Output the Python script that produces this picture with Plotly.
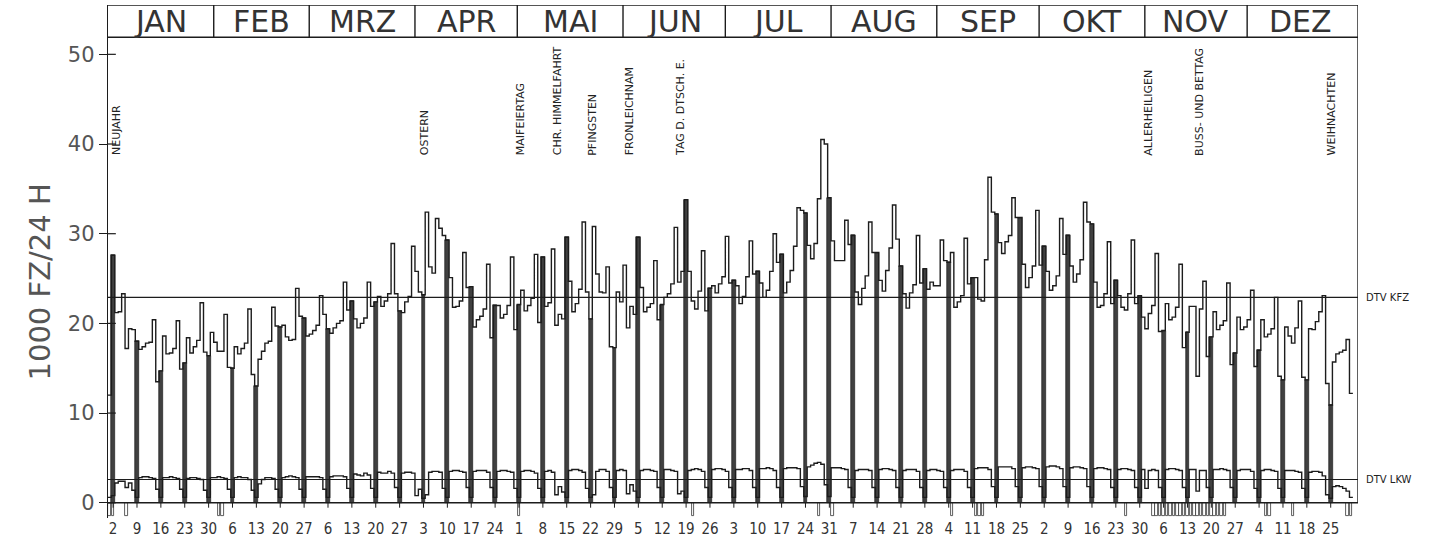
import plotly.graph_objects as go

# ---------------- data (1983, daily values, 1000 vehicles / 24 h) ----------------
# KFZ: all motor vehicles, Jan 1 (Sat) ... Dec 31 (Sat); rows = weeks Mon..Sun
kfz = [
    12.0, 27.6,
    21.2, 21.3, 23.3, 17.2, 19.4, 19.3, 18.0,
    17.1, 17.4, 17.8, 17.9, 20.4, 13.5, 14.7,
    18.6, 16.6, 16.7, 17.2, 20.3, 14.9, 15.6,
    18.4, 16.7, 17.4, 18.1, 22.3, 16.8, 16.4,
    19.0, 17.9, 16.9, 16.9, 21.0, 15.1, 15.0,
    17.4, 16.6, 17.2, 17.8, 21.6, 14.3, 13.0,
    16.0, 16.9, 17.8, 18.0, 21.8, 19.7, 19.6,
    19.8, 18.5, 18.1, 18.2, 23.9, 20.8, 20.6,
    18.6, 18.8, 19.2, 19.8, 23.1, 21.0, 19.4,
    18.9, 19.5, 20.0, 20.3, 24.6, 21.5, 22.5,
    20.5, 19.5, 20.0, 20.6, 24.6, 21.9, 22.4,
    23.0, 21.9, 22.5, 23.3, 28.9, 23.3, 21.4,
    21.2, 22.4, 23.0, 28.6, 25.8, 23.5, 23.2,
    32.4, 26.3, 25.6, 31.7, 30.6, 29.8, 29.3,
    25.1, 21.8, 21.9, 22.5, 27.9, 24.0, 24.1,
    19.6, 20.4, 20.8, 21.6, 26.6, 18.4, 22.0,
    22.0, 20.6, 21.0, 22.0, 27.4, 19.3, 22.1,
    23.7, 21.4, 22.0, 22.8, 27.7, 20.1, 27.4,
    21.9, 22.3, 28.3, 19.8, 21.0, 20.5, 29.6,
    24.7, 21.3, 22.2, 23.8, 31.3, 23.5, 20.5,
    30.8, 25.5, 23.5, 23.4, 26.3, 17.4, 17.3,
    23.5, 22.4, 26.5, 19.5, 21.9, 21.0, 29.6,
    24.0, 21.3, 21.8, 22.2, 27.0, 20.4, 22.1,
    22.9, 23.3, 24.4, 30.7, 24.6, 25.8, 33.8,
    25.8, 22.5, 21.6, 23.6, 28.1, 21.4, 23.9,
    24.2, 23.4, 24.4, 25.2, 29.7, 24.5, 24.8,
    24.2, 22.2, 23.0, 25.2, 29.2, 25.5, 25.8,
    24.5, 22.9, 23.7, 25.8, 30.0, 26.8, 27.7,
    23.4, 24.6, 25.9, 28.6, 32.9, 32.6, 32.3,
    28.7, 27.2, 28.9, 33.9, 40.5, 40.0, 34.0,
    29.2, 27.0, 27.0, 27.0, 31.5, 28.8, 29.8,
    23.5, 22.1, 23.9, 25.3, 31.3, 27.9, 27.9,
    24.8, 23.6, 25.9, 28.4, 33.2, 29.4, 26.4,
    23.3, 21.7, 23.4, 24.3, 29.8, 24.5, 26.1,
    23.8, 24.6, 24.2, 24.2, 29.3, 27.0, 26.8,
    27.9, 21.8, 22.4, 23.1, 29.5, 24.4, 25.1,
    25.1, 22.7, 22.5, 27.1, 36.3, 32.4, 32.2,
    29.0, 27.8, 29.1, 29.8, 34.0, 31.8, 31.8,
    26.6, 24.0, 25.1, 26.4, 32.6, 26.5, 28.6,
    25.8, 23.7, 24.2, 25.3, 31.7, 27.7, 29.8,
    26.4, 24.6, 25.5, 27.1, 33.5, 31.3, 31.1,
    24.6, 21.8, 22.0, 23.3, 29.1, 22.2, 24.8,
    23.1, 21.8, 21.5, 23.3, 29.3, 22.2, 23.1,
    20.7, 19.4, 21.1, 22.0, 27.8, 19.1, 19.2,
    22.2, 20.4, 20.7, 21.8, 26.6, 17.3, 19.0,
    21.9, 21.9, 14.1, 21.6, 24.7, 16.3, 18.5,
    21.3, 19.3, 19.8, 20.3, 24.5, 15.4, 16.7,
    20.7, 19.3, 19.6, 20.4, 23.7, 15.2, 17.0,
    20.4, 18.5, 18.8, 19.4, 22.9, 14.1, 13.7,
    19.6, 18.6, 17.8, 19.5, 22.5, 14.0, 13.7,
    19.4, 19.3, 20.2, 21.3, 23.1, 13.3, 10.9,
    15.7, 16.6, 16.8, 17.0, 18.2, 12.2,
]

# LKW: trucks
lkw = [
    0.6, 0.8,
    2.2, 2.4, 2.4, 1.7, 2.2, 1.4, 0.6,
    2.8, 2.9, 2.9, 2.8, 2.7, 1.5, 0.6,
    2.8, 2.8, 2.9, 2.8, 2.7, 1.5, 0.6,
    2.7, 2.8, 2.8, 2.7, 2.6, 1.4, 0.6,
    2.8, 2.8, 2.9, 2.8, 2.7, 1.5, 0.6,
    2.8, 2.9, 2.8, 2.8, 2.6, 1.4, 0.6,
    2.1, 2.6, 2.8, 2.8, 2.7, 1.5, 0.6,
    2.8, 2.9, 3.0, 2.9, 2.8, 1.5, 0.6,
    2.9, 2.9, 2.9, 2.9, 2.8, 1.5, 0.6,
    2.9, 3.0, 3.0, 3.0, 2.9, 1.6, 0.6,
    3.2, 3.1, 3.0, 3.3, 3.1, 1.6, 0.6,
    3.4, 3.3, 3.3, 3.5, 3.3, 1.7, 0.6,
    3.3, 3.4, 3.4, 3.3, 0.8, 1.5, 0.5,
    0.9, 3.4, 3.5, 3.5, 3.4, 1.6, 0.6,
    3.5, 3.6, 3.6, 3.5, 3.4, 1.7, 0.6,
    3.5, 3.6, 3.6, 3.6, 3.4, 1.7, 0.6,
    3.5, 3.6, 3.6, 3.5, 3.4, 1.6, 0.6,
    3.5, 3.6, 3.6, 3.5, 3.3, 1.6, 0.6,
    3.5, 3.6, 3.4, 0.9, 1.8, 1.2, 0.6,
    3.6, 3.7, 3.7, 3.6, 3.4, 1.6, 0.6,
    0.9, 3.5, 3.7, 3.7, 3.5, 1.7, 0.6,
    3.6, 3.7, 3.6, 1.0, 2.0, 1.3, 0.6,
    3.6, 3.7, 3.7, 3.6, 3.5, 1.7, 0.6,
    3.7, 3.7, 3.6, 3.5, 1.0, 1.3, 0.6,
    3.6, 3.7, 3.8, 3.7, 3.5, 1.7, 0.6,
    3.7, 3.8, 3.8, 3.7, 3.5, 1.7, 0.6,
    3.7, 3.7, 3.8, 3.8, 3.6, 1.7, 0.6,
    3.8, 3.8, 3.9, 3.8, 3.6, 1.7, 0.6,
    3.8, 3.9, 3.9, 3.9, 3.8, 1.8, 0.7,
    4.0, 4.2, 4.4, 4.5, 4.3, 2.0, 0.7,
    3.9, 3.9, 3.9, 3.8, 3.7, 1.7, 0.6,
    3.6, 3.7, 3.7, 3.7, 3.6, 1.7, 0.6,
    3.7, 3.8, 3.8, 3.7, 3.6, 1.7, 0.6,
    3.6, 3.7, 3.7, 3.7, 3.5, 1.7, 0.6,
    3.6, 3.7, 3.7, 3.6, 3.5, 1.7, 0.6,
    3.6, 3.7, 3.7, 3.7, 3.5, 1.7, 0.6,
    3.8, 3.9, 3.9, 3.9, 3.7, 1.8, 0.6,
    4.0, 4.0, 4.0, 4.0, 3.8, 1.8, 0.6,
    3.9, 4.0, 4.0, 3.9, 3.8, 1.8, 0.6,
    4.0, 4.1, 4.1, 4.0, 3.8, 1.8, 0.6,
    3.9, 4.0, 4.0, 3.9, 3.8, 1.8, 0.6,
    3.8, 3.9, 3.9, 3.8, 3.7, 1.7, 0.6,
    3.7, 3.8, 3.8, 3.7, 3.6, 1.7, 0.6,
    3.7, 1.6, 3.6, 3.7, 3.6, 1.7, 0.6,
    3.7, 3.8, 3.8, 3.7, 3.6, 1.7, 0.6,
    3.7, 3.7, 1.3, 3.6, 3.6, 1.7, 0.6,
    3.7, 3.7, 3.8, 3.7, 3.6, 1.7, 0.6,
    3.6, 3.7, 3.7, 3.7, 3.5, 1.6, 0.6,
    3.6, 3.7, 3.7, 3.6, 3.5, 1.6, 0.6,
    3.6, 3.6, 3.6, 3.5, 3.4, 1.6, 0.6,
    3.4, 3.5, 3.5, 3.4, 3.0, 0.9, 0.5,
    1.8, 1.9, 1.8, 1.6, 1.3, 0.6,
]

dtv_kfz = 22.9
dtv_lkw = 2.6

months = ["JAN", "FEB", "MRZ", "APR", "MAI", "JUN", "JUL", "AUG", "SEP", "OKT", "NOV", "DEZ"]
month_days = [31, 28, 31, 30, 31, 30, 31, 31, 30, 31, 30, 31]

sunday_labels = ["2", "9", "16", "23", "30", "6", "13", "20", "27", "6", "13", "20", "27",
                 "3", "10", "17", "24", "1", "8", "15", "22", "29", "5", "12", "19", "26",
                 "3", "10", "17", "24", "31", "7", "14", "21", "28", "4", "11", "18", "25",
                 "2", "9", "16", "23", "30", "6", "13", "20", "27", "4", "11", "18", "25"]

holiday_names = ["NEUJAHR", "OSTERN", "MAIFEIERTAG", "CHR. HIMMELFAHRT", "PFINGSTEN",
                 "FRONLEICHNAM", "TAG D. DTSCH. E.", "ALLERHEILIGEN", "BUSS- UND BETTAG",
                 "WEIHNACHTEN"]
holiday_days = [0, 92, 120, 131, 141, 152, 167, 304, 319, 358]   # day of year, 0 = Jan 1

# days flagged below the axis (incomplete counts)
flag_days = [0, 1, 5, 32, 33, 120, 171, 208, 212, 247, 254, 255, 256, 298,
             306, 307, 308, 309, 310, 311, 312, 313, 314, 315, 316, 317, 318, 319,
             320, 321, 322, 323, 324, 325, 326, 327, 339, 340, 347, 363, 364]

# ---------------- derived ----------------
days = list(range(len(kfz)))
sundays = [d for d in days if d % 7 == 1]
sun_kfz = [kfz[d] for d in sundays]

X0, X1 = -0.5, 366
Y0, Y1 = -1.7, 55.5
HDR = 51.9

INK = "#1c1c1c"

fig = go.Figure()

# Sunday bars
fig.add_trace(go.Bar(x=sundays, y=sun_kfz, width=1.15,
                     marker=dict(color="#404040", line=dict(color="#111", width=0.6)),
                     hoverinfo="skip"))
# flagged days below the axis
fig.add_trace(go.Bar(x=flag_days, y=[-1.5] * len(flag_days), width=0.75,
                     marker=dict(color="white", line=dict(color="#333", width=0.8)),
                     hoverinfo="skip"))

# KFZ step line
step_x = [d - 0.5 for d in days] + [days[-1] + 0.5]
fig.add_trace(go.Scatter(x=step_x, y=kfz + [kfz[-1]], mode="lines",
                         line=dict(shape="hv", color=INK, width=1.4), hoverinfo="skip"))
# LKW step line
fig.add_trace(go.Scatter(x=step_x, y=lkw + [lkw[-1]], mode="lines",
                         line=dict(shape="hv", color=INK, width=1.4), hoverinfo="skip"))

# Sunday tick marks under the base line
tx, ty = [], []
for s in sundays:
    tx += [s, s, None]
    ty += [0, -0.55, None]
fig.add_trace(go.Scatter(x=tx, y=ty, mode="lines", line=dict(color=INK, width=1),
                         hoverinfo="skip"))

shapes = []
def hline(y, x0=X0, x1=X1, w=1.2):
    shapes.append(dict(type="line", xref="x", yref="y", x0=x0, x1=x1, y0=y, y1=y,
                       line=dict(color=INK, width=w)))

hline(dtv_kfz, w=1.1)
hline(dtv_lkw, w=1.1)
hline(0, w=1.4)
hline(HDR, w=1.6)
hline(Y1, w=1.6)
# right frame
shapes.append(dict(type="line", xref="x", yref="y", x0=X1, x1=X1, y0=0, y1=Y1,
                   line=dict(color=INK, width=1.4)))
# month separators + labels
annotations = []
start = 0
for name, n in zip(months, month_days):
    if start > 0:
        shapes.append(dict(type="line", xref="x", yref="y", x0=start - 0.5, x1=start - 0.5,
                           y0=HDR, y1=Y1, line=dict(color=INK, width=1.4)))
    annotations.append(dict(x=start + n / 2 - 0.5, y=(HDR + Y1) / 2, xref="x", yref="y",
                            text=name, showarrow=False,
                            font=dict(family="DejaVu Sans", size=30, color="#333"),
                            xanchor="center", yanchor="middle"))
    start += n

# inner half of the y ticks (ticks cross the axis)
for v in range(0, 51, 10):
    shapes.append(dict(type="line", xref="x", yref="y", x0=X0, x1=X0 + 2.3, y0=v, y1=v,
                       line=dict(color=INK, width=1.2)))

# holiday labels
for name, d in zip(holiday_names, holiday_days):
    annotations.append(dict(x=max(d + 0.5, 2.0), y=38.5, xref="x", yref="y", text=name,
                            showarrow=False, textangle=-90, xanchor="center", yanchor="bottom",
                            font=dict(family="DejaVu Sans", size=11, color="#222")))

# right-hand labels
for txt, v in [("DTV KFZ", dtv_kfz), ("DTV LKW", dtv_lkw)]:
    annotations.append(dict(x=1.005, y=v, xref="paper", yref="y", text=txt, showarrow=False,
                            xanchor="left", yanchor="middle",
                            font=dict(family="DejaVu Sans", size=10, color="#222")))

# y axis title
annotations.append(dict(x=-0.054, y=0.46, xref="paper", yref="paper", text="1000 FZ/24 H",
                        showarrow=False, textangle=-90, xanchor="center", yanchor="middle",
                        font=dict(family="DejaVu Sans", size=29, color="#555")))

fig.update_layout(
    width=1429, height=545,
    margin=dict(l=108, r=71, t=5, b=27),
    paper_bgcolor="white", plot_bgcolor="white",
    showlegend=False, barmode="overlay", bargap=0,
    shapes=shapes, annotations=annotations,
    xaxis=dict(range=[X0, X1], tickmode="array", tickvals=sundays, ticktext=sunday_labels,
               ticks="", showline=False, showgrid=False, zeroline=False,
               tickfont=dict(family="Liberation Sans Narrow, DejaVu Sans Condensed, Roboto Condensed, DejaVu Sans",
                             size=15, color="#333")),
    yaxis=dict(range=[Y0, Y1], tickmode="array", tickvals=[0, 10, 20, 30, 40, 50],
               ticks="outside", ticklen=8, tickwidth=1.2, tickcolor=INK,
               showline=True, linecolor=INK, linewidth=1.4,
               showgrid=False, zeroline=False,
               tickfont=dict(family="DejaVu Sans", size=21, color="#555")),
)

fig.write_html("out.html", config={"displayModeBar": False},
               post_script="document.body.style.margin='0';document.body.style.padding='0';")
